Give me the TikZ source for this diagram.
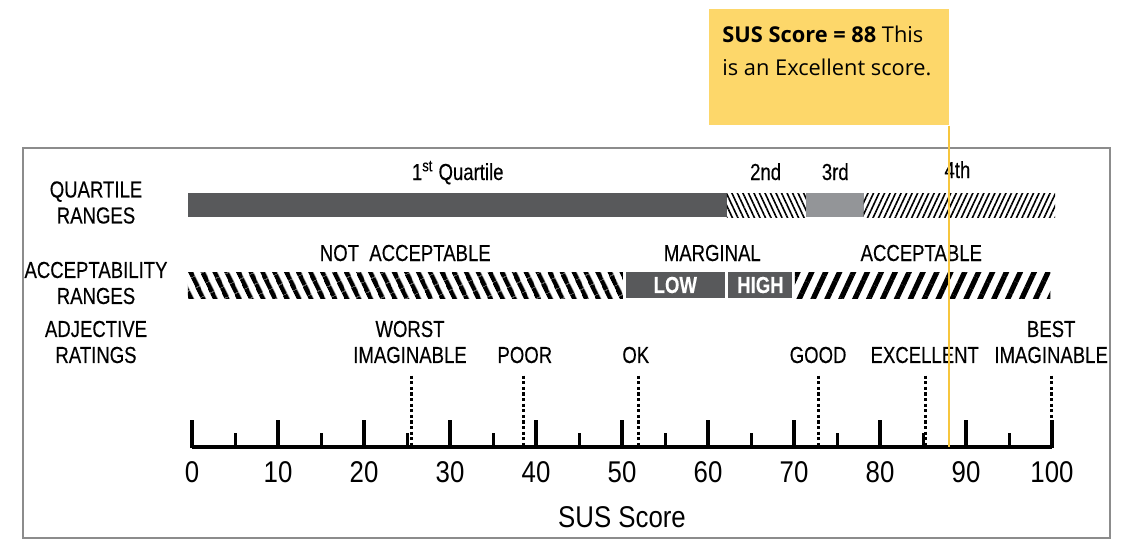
\documentclass[tikz,border=0pt]{standalone}
\usepackage{fontspec}
\setmainfont{Liberation Sans}[FakeStretch=0.86]
\newfontfamily\lblfont{Liberation Sans}[FakeStretch=0.8,FakeBold=0.3]
\newfontfamily\notefont{Open Sans}
\usetikzlibrary{patterns.meta}
\definecolor{bardark}{RGB}{88,89,91}
\definecolor{barlight}{RGB}{147,149,152}
\definecolor{framegray}{RGB}{140,140,140}
\definecolor{noteyellow}{RGB}{253,215,106}
\definecolor{markyellow}{RGB}{247,198,62}

\begin{document}
\begin{tikzpicture}[x=0.5pt,y=-0.5pt,font=\lblfont\fontsize{11.6}{13}\selectfont]
      \tikzstyle{row label}=[align=center,inner sep=0pt]
      \tikzstyle{band label}=[anchor=base,inner sep=0pt]
      \tikzstyle{grade box}=[fill=bardark,text=white,inner sep=0pt,minimum height=13pt,font=\lblfont\fontsize{11.6}{13}\selectfont\bfseries]
      \tikzstyle{rating}=[align=center,inner sep=0pt]
      \tikzstyle{rating line}=[line width=1.5pt,dash pattern=on 1.6pt off 1.2pt,shorten <=6pt]
      \tikzstyle{major tick}=[line width=2pt]
      \tikzstyle{minor tick}=[line width=1.5pt]
      \tikzstyle{num}=[inner sep=0pt,font=\normalfont\fontsize{15}{18}\selectfont]
      \tikzstyle{note box}=[fill=noteyellow,inner xsep=6.5pt,inner ysep=0pt,anchor=north west]

      \useasboundingbox (0,0) rectangle (1122,552);
      \draw[framegray,line width=1pt] (23,148) rectangle (1110,538);

      % row headings
      \node (quartrow) [row label] at (96,202.5) {QUARTILE\\RANGES};
      \node (accrow) [row label] at (96,283) {ACCEPTABILITY\\RANGES};
      \node (adjrow) [row label] at (96,342) {ADJECTIVE\\RATINGS};

      \begin{scope}[shift={(192,0)},x=4.3pt]
        % quartile ranges
        \fill[bardark] (-0.47,193) rectangle (62.2,217);
        \fill[pattern={Lines[angle=-65,distance=2.5pt,line width=0.8pt]}] (62.2,193) rectangle (71.4,217);
        \fill[barlight] (71.4,193) rectangle (78.1,217);
        \fill[pattern={Lines[angle=65,distance=2.5pt,line width=0.8pt]}] (78.1,193) rectangle (100.35,217);
        \node (q1) [band label] at (30.9,180) {1\textsuperscript{st} Quartile};
        \node (q2) [band label] at (66.7,180) {2nd};
        \node (q3) [band label] at (74.8,180) {3rd};
        \node (q4) [band label] at (89,178) {4th};

        % acceptability ranges
        \fill[pattern={Lines[angle=-65,distance=5.4pt,line width=2.4pt]}] (-0.47,272) rectangle (50.1,298);
        \node (low) [grade box,minimum width=49.5pt] at (56.2,285) {LOW};
        \node (high) [grade box,minimum width=32pt] at (66.1,285) {HIGH};
        \fill[pattern={Lines[angle=65,distance=6.3pt,line width=2.6pt]}] (70.1,272) rectangle (99.8,298);
        \node (notacc) [band label] at (24.8,261) {NOT~~ACCEPTABLE};
        \node (marginal) [band label] at (60.5,261) {MARGINAL};
        \node (acc) [band label] at (84.8,261) {ACCEPTABLE};

        % scale
        \draw[line width=2pt] (0,447) -- (100,447);
        \foreach \s in {0,10,...,100}{
          \draw[major tick] (\s,448) -- (\s,420);
          \node (n\s) [num] at (\s,472) {\s};
        }
        \foreach \s in {5,15,...,95}
          \draw[minor tick] (\s,447) -- (\s,433);
        \node (xtitle) [num,anchor=base] at (50,527) {SUS Score};

        % adjective ratings
        \coordinate (worstpt) at (25.47,447);
        \coordinate (poorpt) at (38.6,447);
        \coordinate (okpt) at (51.9,447);
        \coordinate (goodpt) at (72.8,447);
        \coordinate (excpt) at (85.3,447);
        \coordinate (bestpt) at (99.9,447);
        \coordinate (scorept) at (88,447);
        \node (worst) [rating] at (25.35,342) {WORST\\IMAGINABLE};
        \node (poor) [rating] at (38.7,355) {POOR};
        \node (ok) [rating] at (51.6,355) {OK};
        \node (good) [rating] at (72.8,355) {GOOD};
        \node (exc) [rating] at (85.2,355) {EXCELLENT};
        \node (best) [rating] at (99.9,342) {BEST\\IMAGINABLE};
        \draw[rating line] (worst.south -| worstpt) -- (worstpt);
        \draw[rating line] (poor.south -| poorpt) -- (poorpt);
        \draw[rating line] (ok.south -| okpt) -- (okpt);
        \draw[rating line] (good.south -| goodpt) -- (goodpt);
        \draw[rating line] (exc.south -| excpt) -- (excpt);
        \draw[rating line] (best.south -| bestpt) -- (bestpt);
      \end{scope}

      % score callout
      \node (note) [note box] at (709,9) {\parbox[c][58pt][t]{107pt}{\notefont\fontsize{10.9}{16.5}\selectfont
        \rule{0pt}{16.5pt}\textbf{SUS Score = 88} This\\is an Excellent score.}};
      \draw[markyellow,line width=1.2pt] (note.south -| scorept) -- (scorept);
\end{tikzpicture}
\end{document}
